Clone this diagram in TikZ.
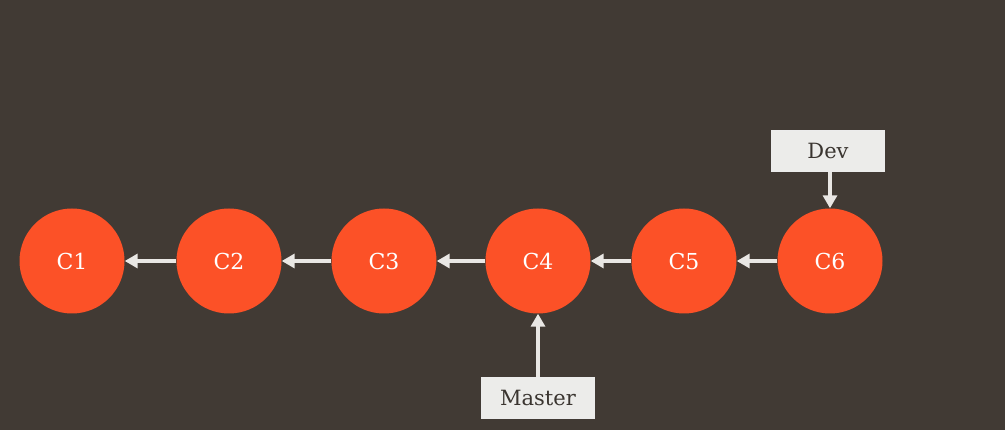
\documentclass[tikz,border=0pt]{standalone}
\usepackage{fontspec}
\setmainfont{DejaVu Serif}
\usetikzlibrary{arrows.meta}
\definecolor{bg}{HTML}{413A34}
\definecolor{commit}{HTML}{FC5127}
\definecolor{boxfill}{HTML}{ECECEA}
\definecolor{boxtext}{HTML}{3A3530}
\definecolor{arrowc}{HTML}{E9E7E4}
\begin{document}
\begin{tikzpicture}[x=1pt,y=-1pt,
  commitnode/.style={circle,fill=commit,minimum size=105pt,inner sep=0pt,text=white,font=\fontsize{22}{26}\selectfont},
  refbox/.style={rectangle,fill=boxfill,draw=white!85!gray,line width=0.8pt,minimum width=113pt,minimum height=41pt,inner sep=0pt,text=boxtext,font=\fontsize{21}{25}\selectfont},
  link/.style={draw=arrowc,line width=3.8pt,-{Triangle[length=13pt,width=14pt]}}]
\fill[bg] (0,0) rectangle (1005,430);
\useasboundingbox (0,0) rectangle (1005,430);
\node[commitnode] (c1) at (72,261) {C1};
\node[commitnode] (c2) at (229,261) {C2};
\node[commitnode] (c3) at (384,261) {C3};
\node[commitnode] (c4) at (538,261) {C4};
\node[commitnode] (c5) at (684,261) {C5};
\node[commitnode] (c6) at (830,261) {C6};
\node[refbox] (dev) at (828,151) {Dev};
\node[refbox] (master) at (538,398) {Master};
\draw[link] (c2) -- (c1);
\draw[link] (c3) -- (c2);
\draw[link] (c4) -- (c3);
\draw[link] (c5) -- (c4);
\draw[link] (c6) -- (c5);
\draw[link] (dev.south -| c6) -- (c6);
\draw[link] (master) -- (c4);
\end{tikzpicture}
\end{document}
